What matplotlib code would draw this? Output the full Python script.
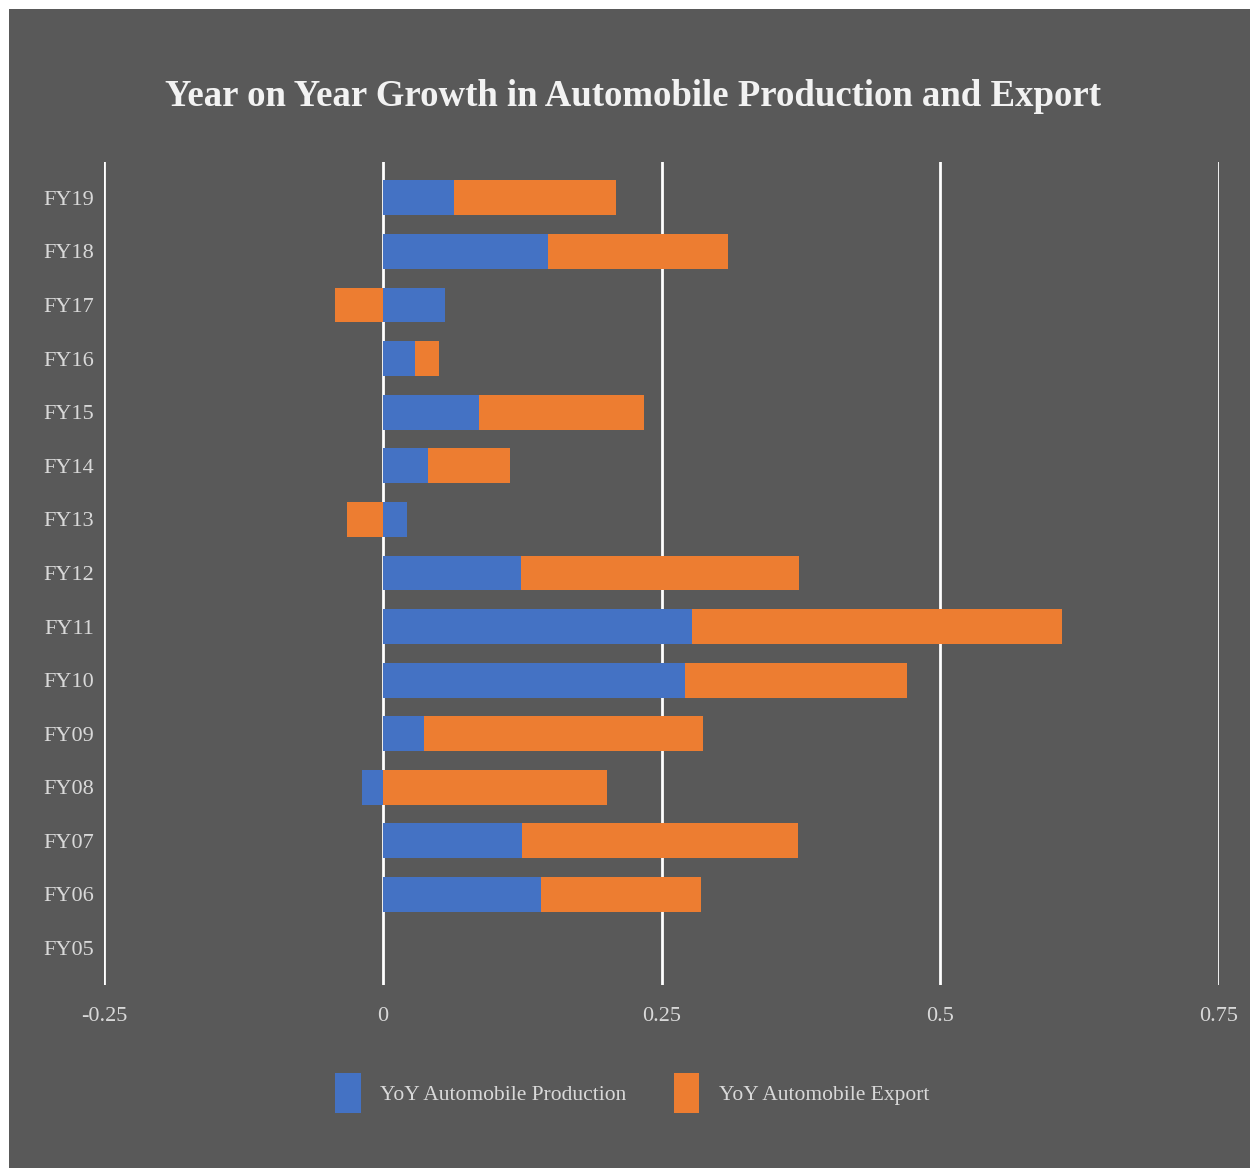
import numpy as np
import matplotlib
matplotlib.use("Agg")
import matplotlib.pyplot as plt
from matplotlib.patches import Rectangle

years = ['FY05', 'FY06', 'FY07', 'FY08', 'FY09', 'FY10', 'FY11', 'FY12',
         'FY13', 'FY14', 'FY15', 'FY16', 'FY17', 'FY18', 'FY19']
production = [0.0, 0.142, 0.125, -0.019, 0.037, 0.271, 0.277, 0.124,
              0.022, 0.041, 0.086, 0.029, 0.056, 0.148, 0.064]
export = [0.0, 0.143, 0.247, 0.201, 0.250, 0.199, 0.332, 0.249,
          -0.032, 0.073, 0.148, 0.021, -0.043, 0.162, 0.145]
xticks = [-0.25, 0, 0.25, 0.5, 0.75]
xticklabels = ['-0.25', '0', '0.25', '0.5', '0.75']

bg = '#595959'
blue = '#4472c4'
orange = '#ed7d31'
txt = '#d9d9d9'
font = 'Liberation Serif'

prod = np.array(production)
exp_ = np.array(export)
# excel-style stacking: negatives stack from zero separately
left = np.where(np.sign(prod) == np.sign(exp_), prod, 0)

fig = plt.figure(figsize=(12.54, 11.68), dpi=100)
fig.patch.set_facecolor('white')
fig.patches.append(Rectangle((9 / 1254, 0), 1241 / 1254, 1 - 9 / 1168,
                             transform=fig.transFigure, facecolor=bg,
                             edgecolor='none', zorder=-10))

ax = fig.add_axes([104 / 1254, 1 - 985 / 1168, 1115 / 1254, 823 / 1168])
ax.set_facecolor('none')
y = np.arange(len(years))
ax.barh(y, prod, height=0.65, color=blue, label='YoY Automobile Production', zorder=3)
ax.barh(y, exp_, left=left, height=0.65, color=orange, label='YoY Automobile Export', zorder=3)

ax.set_xlim(-0.25, 0.75)
ax.set_ylim(-0.69, 14.67)
ax.set_xticks(xticks)
ax.set_xticklabels(xticklabels)
ax.set_yticks(y)
ax.set_yticklabels(years)
for s in ax.spines.values():
    s.set_visible(False)
ax.grid(axis='x', color='white', linewidth=2, zorder=1)
ax.tick_params(length=0, colors=txt, labelsize=16)
ax.tick_params(axis='y', pad=7)
ax.tick_params(axis='x', pad=16)
for lab in ax.get_xticklabels() + ax.get_yticklabels():
    lab.set_family(font)

fig.text(633 / 1254, 1 - 96 / 1168, 'Year on Year Growth in Automobile Production and Export',
         ha='center', va='center', color='#f2f2f2', fontsize=26.5, fontweight='bold',
         family=font)

leg = fig.legend(loc='center', bbox_to_anchor=(632 / 1254, 1 - 1093 / 1168), ncol=2,
                 frameon=False, prop={'family': font, 'size': 15.5},
                 handlelength=1.2, handleheight=2.5, handletextpad=0.9,
                 columnspacing=2.2)
for t in leg.get_texts():
    t.set_color(txt)

fig.savefig('out.png', dpi=100, facecolor=fig.get_facecolor())
